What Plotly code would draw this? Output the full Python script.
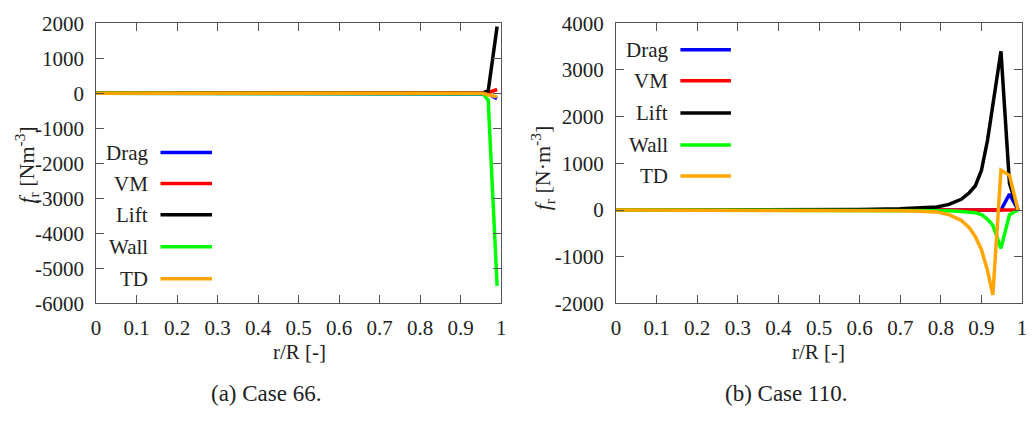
import plotly.graph_objects as go

W, H = 1035, 421

# ---------------- data ----------------
series_names = ["Drag", "VM", "Lift", "Wall", "TD"]
series_colors = ["#0000ff", "#ff0000", "#000000", "#00ff00", "#ffa500"]

# Case 66
x66 = [0.0, 0.1, 0.2, 0.3, 0.4, 0.5, 0.6, 0.7, 0.8, 0.9, 0.955, 0.968, 0.99]
drag66 = [0, 0, 0, 0, 0, 0, 0, 0, 0, 0, 0, -20, -150]
vm66 = [0, 0, 0, 0, 0, 0, 0, 0, 0, 0, 0, 20, 110]
lift66 = [0, 0, 0, 0, 0, 0, 0, 0, 0, 0, 10, 70, 1910]
wall66 = [0, 0, 0, 0, 0, 0, 0, 0, 0, 0, -10, -200, -5500]
td66 = [0, 0, 0, 0, 0, 0, 0, 0, 0, 0, 0, -40, -100]

# Case 110
x110 = [0.0, 0.1, 0.2, 0.3, 0.4, 0.5, 0.6, 0.7, 0.75, 0.79, 0.82, 0.85, 0.87,
        0.885, 0.9, 0.915, 0.928, 0.948, 0.969, 0.99]
drag110 = [0, 0, 0, 0, 0, 0, 0, 0, 0, 0, 0, 0, 0, 0, 0, 0, 0, 0, 340, 0]
vm110 = [0, 0, 0, 0, 0, 0, 0, 0, 0, 0, 0, 0, 0, 0, 0, 0, 0, 5, 10, 0]
lift110 = [0, 0, 0, 0, 3, 6, 12, 25, 40, 67, 120, 230, 370, 520, 850, 1500,
           2250, 3400, 570, 0]
wall110 = [0, 0, 0, 0, 0, 0, -3, -6, -8, -10, -15, -30, -45, -60, -100, -200,
           -330, -822, -100, 0]
td110 = [0, 0, 0, 0, 0, 0, -8, -18, -28, -40, -100, -220, -380, -570, -850,
         -1300, -1818, 855, 745, 0]

x_ticks = [0, 0.1, 0.2, 0.3, 0.4, 0.5, 0.6, 0.7, 0.8, 0.9, 1]
x_ticktext = ["0", "0.1", "0.2", "0.3", "0.4", "0.5", "0.6", "0.7", "0.8", "0.9", "1"]
y66_ticks = [-6000, -5000, -4000, -3000, -2000, -1000, 0, 1000, 2000]
y110_ticks = [-2000, -1000, 0, 1000, 2000, 3000, 4000]

# ---------------- figure ----------------
FONT = "Liberation Serif"
fig = go.Figure()

panels = [
    ("x", "y", x66, [drag66, vm66, lift66, wall66, td66]),
    ("x2", "y2", x110, [drag110, vm110, lift110, wall110, td110]),
]
for xa, ya, xs, ys_list in panels:
    for name, color, ys in zip(series_names, series_colors, ys_list):
        fig.add_trace(go.Scatter(x=xs, y=ys, mode="lines", name=name,
                                 line=dict(color=color, width=3.5),
                                 xaxis=xa, yaxis=ya, showlegend=False))

def px2x(p):
    return p / W

def py2y(p):
    return 1 - p / H

ydom = [py2y(309), py2y(12)]
axis_common = dict(showline=True, linecolor="#555", linewidth=1, mirror="ticks",
                   ticks="inside", ticklen=8, tickcolor="#555", showgrid=False,
                   zeroline=False, tickfont=dict(family=FONT, size=21, color="#222"))

fig.update_layout(
    width=W, height=H, margin=dict(l=0, r=0, t=0, b=0),
    font=dict(family=FONT, size=20, color="#222"),
    plot_bgcolor="white", paper_bgcolor="white", showlegend=False,
    xaxis=dict(domain=[px2x(92), px2x(501)], range=[0, 1], tickvals=x_ticks,
               ticktext=x_ticktext, anchor="y", ticklabelstandoff=5, **axis_common),
    yaxis=dict(domain=ydom, range=[-6000, 2000], tickvals=y66_ticks,
               ticktext=[str(v) for v in y66_ticks], anchor="x",
               ticklabelstandoff=7, **axis_common),
    xaxis2=dict(domain=[px2x(617), px2x(1027)], range=[0, 1], tickvals=x_ticks,
                ticktext=x_ticktext, anchor="y2", ticklabelstandoff=5, **axis_common),
    yaxis2=dict(domain=ydom, range=[-2000, 4000], tickvals=y110_ticks,
                ticktext=[str(v) for v in y110_ticks], anchor="x2",
                ticklabelstandoff=7, **axis_common),
)

annotations = []
shapes = []

def add_text(px, py, text, size=21, xanchor="center", angle=0):
    annotations.append(dict(x=px2x(px), y=py2y(py), xref="paper", yref="paper",
                            text=text, showarrow=False, xanchor=xanchor,
                            yanchor="middle", textangle=angle,
                            font=dict(family=FONT, size=size, color="#222")))

# axis titles
add_text(297, 361, "r/R [-]")
add_text(821, 361, "r/R [-]")
add_text(22, 162, "<i>f</i><sub>r</sub> [Nm<sup>-3</sup>]", size=22, angle=-90)
add_text(543, 165, "<i>f</i><sub>r</sub> [N·m<sup>-3</sup>]", size=22, angle=-90)
# captions
add_text(264, 405, "(a) Case 66.", size=23)
add_text(789, 405, "(b) Case 110.", size=23)

# legends (text right-aligned, sample line to the right)
legend_specs = [
    (146, 157, 209, [149, 182, 215, 249, 283]),
    (671, 682, 733, [40, 73, 107, 141, 174]),
]
for tx, lx0, lx1, ypos in legend_specs:
    for name, color, py in zip(series_names, series_colors, ypos):
        add_text(tx, py, name, xanchor="right")
        shapes.append(dict(type="line", xref="paper", yref="paper",
                           x0=px2x(lx0), x1=px2x(lx1), y0=py2y(py), y1=py2y(py),
                           line=dict(color=color, width=3.5)))

fig.update_layout(annotations=annotations, shapes=shapes)
fig.write_html("out.html")
